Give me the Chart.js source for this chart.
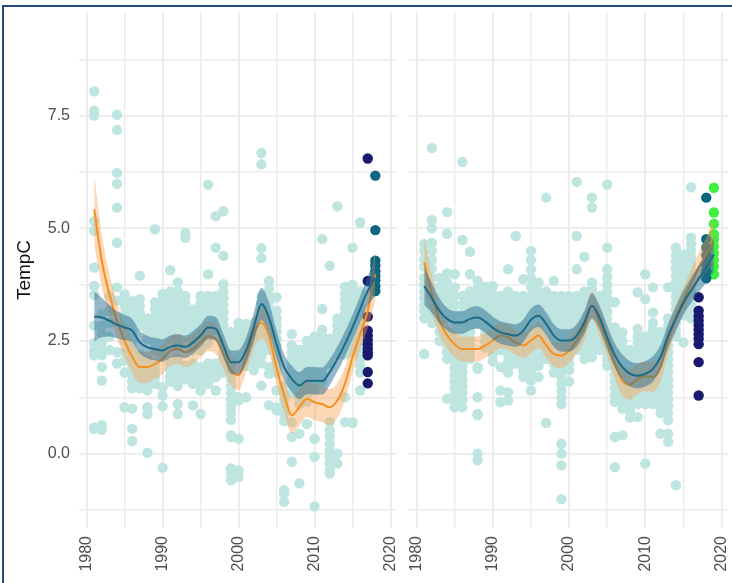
<!DOCTYPE html>
<html>
<head>
<meta charset="utf-8">
<script src="https://cdn.jsdelivr.net/npm/chart.js@4.4.0/dist/chart.umd.min.js"></script>
<style>
  body { margin: 0; background: #fff; width: 732px; height: 583px; overflow: hidden; position: relative; }
  #frame { position: absolute; left: 2px; top: 5px; width: 760px; height: 620px; border: 2px solid #1f4e7a; box-sizing: border-box; }
  .panel { position: absolute; top: 0; height: 583px; }
</style>
</head>
<body>
<div class="panel" style="left:0;width:400px"><canvas id="leftChart"></canvas></div>
<div class="panel" style="left:400px;width:332px"><canvas id="rightChart"></canvas></div>
<div id="frame"></div>
<script>
// axis ticks (minor ones get a grid line but no label)
const xTicks = [1980, 1985, 1990, 1995, 2000, 2005, 2010, 2015, 2020];
const yTicks = [-1.25, 0, 1.25, 2.5, 3.75, 5, 6.25, 7.5, 8.75];

// site 1: yearly readings
const yearsL = [1981, 1982, 1983, 1984, 1985, 1986, 1987, 1988, 1989, 1990, 1991, 1992,
    1993, 1994, 1995, 1996, 1997, 1998, 1999, 2000, 2001, 2002, 2003, 2004,
    2005, 2006, 2007, 2008, 2009, 2010, 2011, 2012, 2013, 2014, 2015, 2016];
const tempsL = [
    [8.04, 7.61, 7.5, 5.16, 4.94, 4.13, 3.72, 3.52, 2.84, 2.45, 2.29, 2.18, 0.58, 0.55],
    [3.1, 2.84, 2.65, 2.47, 2.29, 2.18, 1.92, 1.62, 0.63, 0.53],
    [3.5, 3.17, 2.9, 2.6, 2.3],
    [7.52, 7.18, 6.23, 5.99, 5.46, 4.68, 3.69, 3.4, 2.25, 2.0],
    [3.54, 3.4, 3.28, 3.1, 2.95, 2.8, 2.5, 2.25, 2.06, 1.8, 1.03],
    [3.39, 3.25, 3.1, 2.95, 2.8, 2.65, 2.5, 2.35, 2.2, 2.06, 1.9, 1.75, 1.6, 1.45, 1.0, 0.55, 0.28],
    [3.95, 3.43, 3.28, 3.13, 2.98, 2.83, 2.2, 2.05, 1.9, 1.75, 1.6, 1.45],
    [3.0, 2.85, 2.7, 2.55, 2.1, 1.95, 1.8, 1.65, 1.5, 1.4, 1.03, 0.88, 0.02],
    [4.98, 3.36, 3.2, 3.05, 2.9, 2.75, 2.6, 2.45, 2.3, 2.0, 1.85, 1.7, 1.55],
    [3.54, 3.4, 3.25, 3.1, 2.95, 2.8, 2.65, 2.5, 2.35, 2.2, 1.47, 1.29, 1.05, -0.31],
    [4.07, 3.6, 3.45, 3.3, 3.15, 3.0, 2.85, 2.7, 2.55, 2.0, 1.85, 1.7, 1.6],
    [3.8, 3.6, 3.45, 3.3, 3.15, 3.0, 2.85, 2.7, 2.55, 2.4, 2.1, 1.95, 1.8, 1.65, 1.5, 1.1, 0.88],
    [4.9, 4.79, 3.5, 3.35, 3.2, 3.05, 2.9, 2.75, 2.6, 1.95, 1.8, 1.65],
    [3.2, 3.05, 2.9, 2.75, 2.6, 2.45, 2.3, 2.0, 1.85, 1.7, 1.55, 1.07],
    [3.5, 3.35, 3.2, 3.05, 2.9, 2.75, 2.6, 2.45, 2.3, 1.92, 1.75, 1.6, 1.4, 0.88],
    [5.97, 3.98, 3.5, 3.35, 3.2, 3.05, 2.9, 2.75, 2.6, 2.45, 2.0, 1.85, 1.7, 1.55],
    [5.27, 4.57, 3.5, 3.35, 3.2, 3.05, 2.9, 2.75, 2.0, 1.85, 1.7, 1.4],
    [5.38, 4.39, 3.76, 3.6, 3.45, 3.3, 3.15, 3.0, 2.85, 2.7, 2.55, 2.4, 2.25, 2.1, 1.95, 1.8],
    [2.7, 2.55, 2.4, 2.25, 2.1, 1.95, 1.8, 1.65, 1.5, 1.35, 1.2, 1.05, 0.9, 0.75, 0.41, 0.37, -0.33, -0.44, -0.59],
    [2.9, 2.75, 2.6, 2.45, 2.3, 2.15, 1.25, 1.18, 0.33, -0.37, -0.52],
    [2.88, 2.69, 2.55, 2.4, 2.25, 2.1, 1.95, 1.25],
    [2.9, 2.75, 2.6, 2.45, 2.3, 2.15, 2.0, 1.85],
    [6.67, 6.42, 4.56, 4.34, 3.5, 3.35, 3.2, 3.05, 2.9, 2.75, 2.6, 2.45, 2.3, 2.15, 2.0, 1.51],
    [3.83, 3.65, 3.5, 3.35, 3.2, 3.05, 2.9, 2.75, 2.6, 2.45, 2.3, 1.92, 1.77, 1.07],
    [3.47, 3.17, 3.0, 2.85, 2.7, 2.55, 2.4, 2.25, 2.1, 1.95, 1.8, 1.4, 1.03, 0.96],
    [1.5, 1.35, 1.2, 1.05, 0.88, 0.72, -0.81, -0.88, -1.07],
    [2.65, 2.4, 2.25, 2.1, 1.95, 1.8, 1.65, 1.5, 1.35, 0.7, 0.37, -0.18],
    [2.3, 2.15, 2.0, 1.85, 1.7, 1.55, 1.4, 1.25, 1.1, 0.44, -0.66],
    [2.5, 2.35, 2.2, 2.05, 1.9, 1.75, 1.6, 1.45, 1.3, 1.15, 0.66],
    [2.6, 2.45, 2.3, 2.15, 2.0, 1.85, 1.7, 1.55, 1.4, 0.33, -0.07, -1.17],
    [4.76, 3.21, 2.75, 2.62, 2.48, 2.34, 2.2, 2.05, 1.9, 1.75, 1.6],
    [4.17, 2.55, 2.35, 2.15, 2.0, 0.7, 0.52, 0.38, 0.22, 0.07, -0.08, -0.22, -0.37, -0.44],
    [5.49, 3.0, 2.85, 2.7, 2.55, 2.4, 2.2, 0.0, -0.22],
    [3.7, 3.55, 3.4, 3.25, 3.1, 2.95, 2.8, 2.65, 2.5, 2.35, 2.2, 1.25, 0.7],
    [4.57, 3.75, 3.6, 3.45, 3.3, 3.15, 3.0, 2.85, 2.7, 2.55, 2.4, 2.25, 0.7, 0.68],
    [5.13, 3.6, 3.47, 3.3, 3.15, 3.0, 2.85, 2.7, 2.55, 2.4, 2.25, 2.1, 1.95, 1.8, 1.4]
];
const recent2017L = [6.55, 3.83, 3.04, 2.73, 2.62, 2.52, 2.43, 2.33, 2.25, 2.18, 1.81, 1.56];
const recent2018L = [6.17, 4.96, 4.28, 4.17, 4.05, 3.95, 3.85, 3.72, 3.61];

// site 1: smoothed trends and their band half-widths
const trendYearsL = [1981, 1982, 1983, 1984, 1985, 1986, 1987, 1988, 1989, 1990, 1991, 1992, 1993,
    1994, 1995, 1996, 1997, 1998, 1999, 2000, 2001, 2002, 2003, 2004, 2005, 2006,
    2007, 2008, 2009, 2010, 2011, 2012, 2013, 2014, 2015, 2016, 2017, 2018];
const orangeL = [5.42, 4.28, 3.54, 2.95, 2.5, 2.15, 1.92, 1.92, 1.99, 2.1, 2.28, 2.32, 2.25,
    2.32, 2.47, 2.61, 2.54, 2.21, 1.85, 1.74, 2.14, 2.66, 2.91, 2.61, 1.9, 1.3,
    0.85, 1.03, 1.22, 1.14, 1.1, 1.03, 1.18, 1.55, 2.14, 2.65, 3.17, 3.98];
const orangeBandL = [0.78, 0.58, 0.45, 0.4, 0.37, 0.35, 0.35, 0.34, 0.33, 0.33, 0.33, 0.33, 0.33,
    0.33, 0.33, 0.33, 0.33, 0.33, 0.33, 0.33, 0.33, 0.34, 0.35, 0.35, 0.36, 0.38,
    0.4, 0.4, 0.4, 0.4, 0.4, 0.4, 0.39, 0.37, 0.35, 0.34, 0.38, 0.58];
const tealL = [3.04, 3.02, 2.95, 2.86, 2.8, 2.73, 2.47, 2.36, 2.32, 2.29, 2.37, 2.4, 2.37,
    2.47, 2.62, 2.8, 2.77, 2.4, 2.03, 2.03, 2.29, 2.8, 3.32, 3.02, 2.43, 1.92,
    1.66, 1.51, 1.62, 1.62, 1.61, 1.81, 2.1, 2.43, 2.8, 3.21, 3.61, 3.91];
const tealBandL = [0.55, 0.44, 0.35, 0.3, 0.28, 0.26, 0.25, 0.25, 0.25, 0.25, 0.25, 0.25, 0.25,
    0.25, 0.25, 0.26, 0.26, 0.26, 0.26, 0.27, 0.29, 0.32, 0.36, 0.34, 0.3, 0.28,
    0.29, 0.3, 0.3, 0.3, 0.3, 0.29, 0.28, 0.28, 0.28, 0.29, 0.32, 0.42];

// site 2: yearly readings
const yearsR = [1981, 1982, 1983, 1984, 1985, 1986, 1987, 1988, 1989, 1990, 1991, 1992,
    1993, 1994, 1995, 1996, 1997, 1998, 1999, 2000, 2001, 2002, 2003, 2004,
    2005, 2006, 2007, 2008, 2009, 2010, 2011, 2012, 2013, 2014, 2015, 2016];
const tempsR = [
    [4.65, 4.5, 4.31, 4.15, 3.9, 3.75, 3.6, 3.45, 3.3, 3.17, 3.0, 2.21],
    [6.78, 5.18, 5.0, 4.68, 4.5, 4.3, 4.1, 3.9, 3.7, 3.5, 3.3, 3.1, 2.9],
    [3.9, 3.7, 3.5, 3.3, 3.1, 2.9, 2.7, 2.5],
    [5.36, 4.88, 4.0, 3.8, 3.6, 3.4, 3.2, 3.0, 2.73, 2.55, 2.4, 2.25, 2.1, 1.22],
    [3.98, 3.69, 3.5, 3.3, 3.1, 2.9, 2.7, 2.5, 2.36, 2.2, 2.05, 1.9, 1.75, 1.6, 1.45, 1.3, 1.15, 1.03],
    [6.47, 4.74, 3.5, 3.3, 3.1, 2.9, 2.7, 2.5, 2.3, 2.1, 1.95, 1.8, 1.65, 1.5, 1.35, 1.2, 1.03],
    [4.48, 3.98, 3.6, 3.45, 3.3, 3.15, 3.0, 2.85, 2.7, 2.55, 2.4, 2.25, 2.1],
    [3.83, 3.65, 3.5, 3.35, 3.2, 3.05, 2.9, 1.92, 1.88, 1.25, 0.88, 0.85, 0.0, -0.15],
    [3.7, 3.55, 3.4, 3.25, 3.1, 2.95, 2.8, 2.65, 2.5, 2.35],
    [3.72, 3.55, 3.4, 3.25, 3.1, 2.95, 2.8, 2.65, 2.5, 2.35, 2.2, 2.05],
    [3.5, 3.35, 3.2, 3.05, 2.9, 2.75, 2.6, 2.45, 2.3, 1.92, 1.4, 1.14],
    [4.09, 3.6, 3.45, 3.3, 3.15, 3.0, 2.85, 2.7, 2.5, 2.35, 2.2, 2.05, 1.9, 1.8, 1.36, 1.18],
    [4.83, 3.5, 3.35, 3.2, 3.05, 2.9, 2.75, 2.6, 2.45, 2.3, 2.15, 2.0],
    [3.87, 3.5, 3.35, 3.2, 3.05, 2.9, 2.75, 2.6, 2.45, 2.3, 2.15, 2.0, 1.85, 1.7],
    [4.5, 4.3, 4.09, 3.9, 3.7, 3.5, 3.3, 3.15, 3.0, 2.85, 2.7, 2.55, 2.4, 2.25, 2.1, 1.95, 1.8, 1.62, 1.4],
    [3.8, 3.6, 3.45, 3.3, 3.15, 3.0, 2.85, 2.7, 2.55, 2.4, 2.25, 2.1, 1.95, 1.7],
    [5.68, 3.6, 3.45, 3.3, 3.15, 3.0, 2.85, 2.7, 2.55, 2.4, 2.25, 2.1, 0.68],
    [3.83, 3.5, 3.35, 3.2, 3.05, 2.9, 2.75, 2.6, 2.45, 2.3, 2.15, 2.0, 1.8],
    [3.5, 3.35, 3.2, 3.05, 2.9, 2.75, 2.6, 2.45, 2.3, 2.15, 2.0, 1.85, 1.7, 1.55, 1.4, 1.25, 1.1, 0.22, 0.0, -0.26, -1.01],
    [3.5, 3.35, 3.2, 3.05, 2.9, 2.75, 2.6, 2.45, 2.3, 2.15, 2.0, 1.85, 1.6],
    [6.03, 4.83, 4.09, 3.5, 3.35, 3.2, 3.05, 2.9, 2.75, 2.6, 2.45, 2.3],
    [4.37, 3.6, 3.45, 3.3, 3.15, 3.0, 2.85, 2.7, 2.55, 2.4, 2.25, 2.1],
    [5.68, 5.46, 3.8, 3.65, 3.5, 3.35, 3.2, 3.05, 2.9, 2.75, 2.6, 2.45, 2.3, 2.14],
    [3.5, 3.35, 3.2, 3.05, 2.9, 2.75, 2.6, 2.45, 2.3],
    [5.97, 4.57, 4.09, 3.91, 3.75, 3.6, 3.45, 3.3, 3.15, 3.0, 2.85, 2.7, 2.55, 2.4, 2.25, 2.1, 1.95],
    [3.36, 2.8, 2.65, 2.5, 2.35, 2.2, 2.05, 1.9, 1.75, 1.6, 1.45, 1.3, 1.15, 0.37, -0.3],
    [2.69, 2.5, 2.35, 2.2, 2.05, 1.9, 1.75, 1.6, 1.45, 1.3, 1.15, 1.0, 0.41],
    [2.3, 2.15, 2.0, 1.85, 1.7, 1.55, 1.4, 1.25, 1.1, 0.95, 0.8],
    [3.58, 2.77, 2.6, 2.45, 2.3, 2.15, 2.0, 1.85, 1.7, 1.55, 1.4, 1.25, 1.1, 0.81],
    [3.98, 3.43, 2.6, 2.45, 2.3, 2.15, 2.0, 1.85, 1.7, 1.55, 1.4, 1.25, 1.1, -0.22],
    [3.69, 3.13, 2.9, 2.75, 2.6, 2.45, 2.3, 2.15, 2.0, 1.85, 1.7, 1.55, 1.4, 1.25, 1.1],
    [2.7, 2.55, 2.4, 2.25, 2.1, 1.95, 1.8, 1.65, 1.5, 1.35, 1.2, 1.05, 0.9, 0.44],
    [3.69, 3.0, 2.85, 2.7, 2.55, 2.4, 2.25, 2.1, 1.95, 1.8, 1.65, 1.5, 1.35, 1.2, 1.05, 0.9, 0.74, 0.44, 0.26],
    [4.57, 4.4, 4.25, 4.1, 3.95, 3.8, 3.65, 3.5, 3.35, 3.2, 3.05, 2.9, 2.75, 2.6, -0.7],
    [4.42, 4.27, 4.12, 3.97, 3.82, 3.67, 3.52, 3.37, 3.22, 3.07, 2.47],
    [5.91, 4.79, 4.64, 4.5, 4.35, 4.2, 4.05, 3.9, 3.75, 3.6, 3.45, 3.3, 3.15, 3.0]
];
const recent2017R = [3.47, 3.17, 3.05, 2.95, 2.85, 2.75, 2.65, 2.55, 2.43, 2.03, 1.29];
const recent2018R = [5.68, 4.76, 4.57, 4.4, 4.2, 4.05, 3.89];
const recent2019R = [5.9, 5.35, 5.1, 4.87, 4.75, 4.6, 4.45, 4.3, 4.15, 3.98];

// site 2: smoothed trends and their band half-widths
const trendYearsR = [1981, 1982, 1983, 1984, 1985, 1986, 1987, 1988, 1989, 1990, 1991, 1992, 1993,
    1994, 1995, 1996, 1997, 1998, 1999, 2000, 2001, 2002, 2003, 2004, 2005, 2006,
    2007, 2008, 2009, 2010, 2011, 2012, 2013, 2014, 2015, 2016, 2017, 2018, 2019];
const orangeR = [4.24, 3.54, 2.95, 2.62, 2.43, 2.32, 2.32, 2.32, 2.4, 2.51, 2.62, 2.58, 2.47,
    2.4, 2.51, 2.62, 2.4, 2.21, 2.18, 2.29, 2.51, 2.8, 3.28, 2.91, 2.47, 1.99,
    1.62, 1.53, 1.66, 1.72, 1.7, 1.92, 2.51, 3.02, 3.4, 3.78, 4.12, 4.42, 4.72];
const orangeBandR = [0.58, 0.43, 0.33, 0.29, 0.28, 0.28, 0.28, 0.28, 0.28, 0.28, 0.28, 0.28, 0.28,
    0.28, 0.28, 0.28, 0.28, 0.28, 0.28, 0.28, 0.28, 0.29, 0.31, 0.3, 0.3, 0.31,
    0.33, 0.33, 0.33, 0.33, 0.33, 0.31, 0.3, 0.29, 0.29, 0.3, 0.33, 0.38, 0.52];
const tealR = [3.72, 3.45, 3.17, 2.99, 2.91, 2.91, 2.99, 3.02, 2.93, 2.79, 2.69, 2.65, 2.62,
    2.73, 2.97, 3.06, 2.88, 2.62, 2.51, 2.51, 2.62, 2.91, 3.28, 3.02, 2.58, 2.18,
    1.92, 1.77, 1.73, 1.77, 1.88, 2.14, 2.62, 2.99, 3.35, 3.62, 3.88, 4.13, 4.42];
const tealBandR = [0.42, 0.33, 0.28, 0.25, 0.25, 0.25, 0.25, 0.25, 0.25, 0.25, 0.25, 0.25, 0.25,
    0.25, 0.25, 0.25, 0.25, 0.25, 0.25, 0.25, 0.25, 0.26, 0.28, 0.27, 0.27, 0.27,
    0.28, 0.28, 0.28, 0.28, 0.28, 0.27, 0.27, 0.27, 0.27, 0.28, 0.3, 0.33, 0.38];

const COLORS = {
    obs: '#bfe5e0',
    y2017: '#191970',
    y2018: '#0b6680',
    y2019: '#3ff03f',
    orange: '#f5901e',
    orangeFill: 'rgba(250, 160, 80, 0.42)',
    teal: '#1b6a87',
    tealFill: 'rgba(35, 105, 145, 0.48)'
};

Chart.defaults.font.family = '"Liberation Sans", Arial, sans-serif';

function toPoints(years, temps) {
    const pts = [];
    years.forEach((yr, i) => temps[i].forEach(t => pts.push({ x: yr, y: t })));
    return pts;
}

function column(year, vals) {
    return vals.map(v => ({ x: year, y: v }));
}

function line(years, vals, offsets, sign) {
    return years.map((yr, i) => ({ x: yr, y: vals[i] + (offsets ? sign * offsets[i] : 0) }));
}

function smoothSets(years, vals, band, color, fill, baseOrder) {
    const common = { type: 'line', pointRadius: 0, cubicInterpolationMode: 'monotone' };
    return [
        { ...common, data: line(years, vals), borderColor: color, borderWidth: 2, fill: false, order: baseOrder },
        { ...common, data: line(years, vals, band, 1), borderWidth: 0, backgroundColor: fill, fill: '+1', order: baseOrder + 1 },
        { ...common, data: line(years, vals, band, -1), borderWidth: 0, fill: false, order: baseOrder + 1 }
    ];
}

function dots(data, color, order) {
    return { type: 'scatter', data: data, backgroundColor: color, borderWidth: 0, pointRadius: 5.2, order: order };
}

// labels may overhang the plot edges; keep the plot box exactly where the padding puts it
function noOverhang(axis) {
    axis.paddingLeft = 0;
    axis.paddingRight = 0;
    axis.paddingTop = 0;
    axis.paddingBottom = 0;
}

function makePanel(canvasId, showY, datasets, padding) {
    new Chart(document.getElementById(canvasId), {
        type: 'line',
        data: { datasets: datasets },
        options: {
            responsive: true,
            maintainAspectRatio: false,
            animation: false,
            layout: { padding: padding, autoPadding: false },
            plugins: { legend: { display: false }, tooltip: { enabled: false } },
            scales: {
                x: {
                    type: 'linear',
                    min: 1979,
                    max: 2020.85,
                    afterBuildTicks: axis => { axis.ticks = xTicks.map(v => ({ value: v })); },
                    afterFit: axis => { axis.height = 55; noOverhang(axis); },
                    grid: { color: '#ebebeb', lineWidth: ctx => (ctx.tick && ctx.tick.value % 10 === 0 ? 1.8 : 1.4), drawTicks: false },
                    border: { display: false },
                    ticks: {
                        minRotation: 90,
                        maxRotation: 90,
                        padding: 8,
                        color: '#4d4d4d',
                        font: { size: 16 },
                        callback: v => (v % 10 === 0 ? String(v) : '')
                    }
                },
                y: {
                    type: 'linear',
                    min: -1.65,
                    max: 9.8,
                    afterBuildTicks: axis => { axis.ticks = yTicks.map(v => ({ value: v })); },
                    afterFit: axis => { axis.width = showY ? 75 : 0; noOverhang(axis); },
                    grid: { color: '#ebebeb', lineWidth: ctx => (ctx.tick && ctx.tick.value % 2.5 === 0 ? 1.8 : 1.4), drawTicks: false },
                    border: { display: false },
                    title: {
                        display: showY,
                        text: 'TempC',
                        color: '#111',
                        font: { size: 19 },
                        padding: { top: 9, bottom: 0 }
                    },
                    ticks: {
                        display: showY,
                        padding: 9,
                        color: '#4d4d4d',
                        font: { size: 16 },
                        callback: v => (v % 2.5 === 0 ? v.toFixed(1) : '')
                    }
                }
            }
        }
    });
}

makePanel('leftChart', true, [
    ...smoothSets(trendYearsL, tealL, tealBandL, COLORS.teal, COLORS.tealFill, 0),
    ...smoothSets(trendYearsL, orangeL, orangeBandL, COLORS.orange, COLORS.orangeFill, 2),
    dots(column(2017, recent2017L), COLORS.y2017, 4),
    dots(column(2018, recent2018L), COLORS.y2018, 4),
    dots(toPoints(yearsL, tempsL), COLORS.obs, 5)
], { left: 4, top: 12, right: 3, bottom: 0 });

makePanel('rightChart', false, [
    ...smoothSets(trendYearsR, tealR, tealBandR, COLORS.teal, COLORS.tealFill, 0),
    ...smoothSets(trendYearsR, orangeR, orangeBandR, COLORS.orange, COLORS.orangeFill, 2),
    dots(column(2017, recent2017R), COLORS.y2017, 4),
    dots(column(2018, recent2018R), COLORS.y2018, 4),
    dots(column(2019, recent2019R), COLORS.y2019, 4),
    dots(toPoints(yearsR, tempsR), COLORS.obs, 5)
], { left: 9, top: 12, right: 4, bottom: 0 });
</script>
</body>
</html>
